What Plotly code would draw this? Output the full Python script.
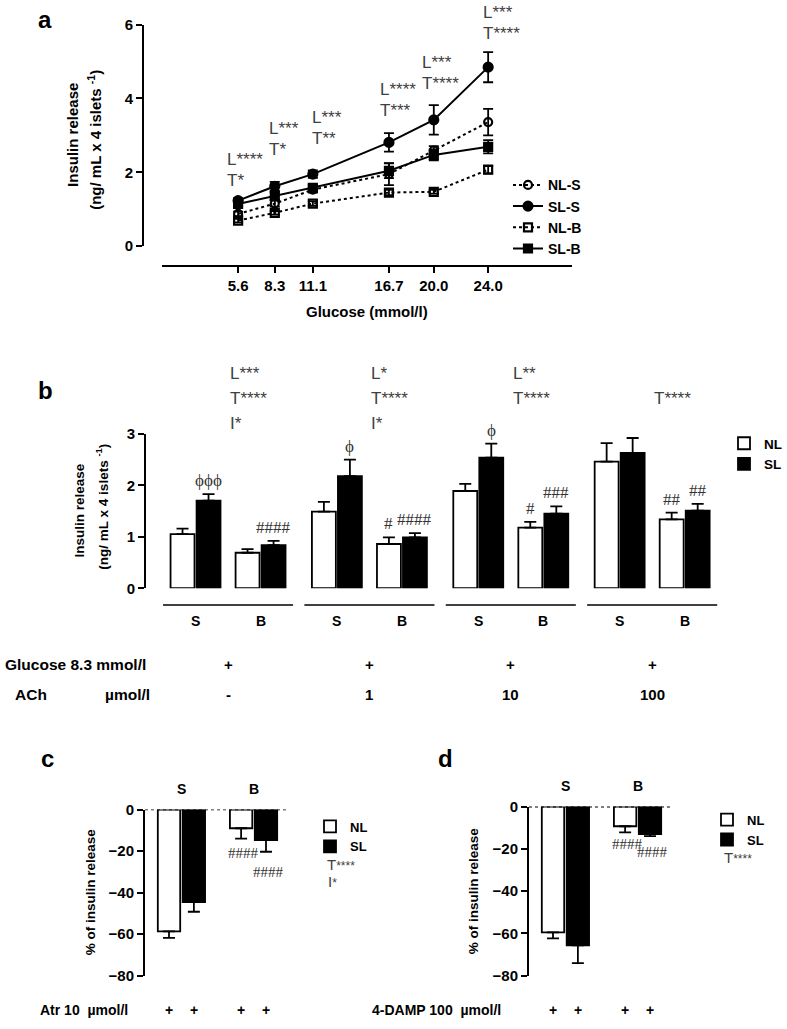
import plotly.graph_objects as go

W, H = 787, 1029
FONT = "Arial, Liberation Sans, Helvetica, sans-serif"
SERIF = "Times New Roman, Liberation Serif, serif"
GRAY = "#404040"


def fx(p):
    return p / W


def fy(p):
    return 1 - p / H


# ---------------- Panel a data ----------------
glucose = [5.6, 8.3, 11.1, 16.7, 20.0, 24.0]
glucose_labels = ["5.6", "8.3", "11.1", "16.7", "20.0", "24.0"]
nl_s = [0.87, 1.15, 1.53, 1.95, 2.59, 3.36]
nl_s_err = [0.06, 0.08, 0.08, 0.30, 0.12, 0.36]
sl_s = [1.23, 1.62, 1.95, 2.81, 3.42, 4.85]
sl_s_err = [0.07, 0.12, 0.10, 0.25, 0.40, 0.41]
nl_b = [0.69, 0.90, 1.15, 1.45, 1.47, 2.07]
nl_b_err = [0.05, 0.05, 0.06, 0.07, 0.05, 0.10]
sl_b = [1.14, 1.36, 1.58, 2.04, 2.47, 2.69]
sl_b_err = [0.06, 0.10, 0.08, 0.20, 0.15, 0.18]
a_sig_L = ["****", "***", "***", "****", "***", "***"]
a_sig_T = ["*", "*", "**", "***", "****", "****"]

# ---------------- Panel b data ----------------
ach_labels = ["-", "1", "10", "100"]
b_nl_s = [1.05, 1.49, 1.89, 2.46]
b_nl_s_err = [0.11, 0.19, 0.14, 0.36]
b_sl_s = [1.70, 2.18, 2.54, 2.63]
b_sl_s_err = [0.13, 0.32, 0.27, 0.29]
b_nl_b = [0.69, 0.86, 1.18, 1.34]
b_nl_b_err = [0.07, 0.13, 0.11, 0.13]
b_sl_b = [0.84, 0.99, 1.45, 1.51]
b_sl_b_err = [0.08, 0.08, 0.14, 0.13]
b_mark_sl_s = ["\u03d5\u03d5\u03d5", "\u03d5", "\u03d5", ""]
b_mark_nl_b = ["", "#", "#", "##"]
b_mark_sl_b = ["####", "####", "###", "##"]
b_sig_L = ["***", "*", "**", ""]
b_sig_T = ["****", "****", "****", "****"]
b_sig_I = ["*", "*", "", ""]

# ---------------- Panel c / d data ----------------
cd_groups = ["S", "B"]
c_nl = [-58.6, -9.0]
c_nl_err = [3.2, 5.0]
c_sl = [-44.5, -14.7]
c_sl_err = [4.7, 5.6]
c_marks = ["####", "####"]
d_nl = [-59.5, -9.3]
d_nl_err = [2.8, 2.9]
d_sl = [-65.6, -13.0]
d_sl_err = [8.4, 1.0]
d_marks = ["####", "####"]

fig = go.Figure()

# ================= Panel a =================
series_a = [
    ("NL-S", nl_s, nl_s_err, "circle-open", "dot", 8),
    ("SL-S", sl_s, sl_s_err, "circle", "solid", 9),
    ("NL-B", nl_b, nl_b_err, "square-open", "dot", 8),
    ("SL-B", sl_b, sl_b_err, "square", "solid", 8),
]
for name, vals, errs, sym, dash, size in series_a:
    fig.add_trace(go.Scatter(
        x=glucose, y=vals, name=name, mode="lines+markers",
        line=dict(color="black", width=2, dash=dash),
        marker=dict(symbol=sym, size=size, color="black",
                    line=dict(color="black", width=2.2)),
        error_y=dict(type="data", array=errs, visible=True, color="black",
                     thickness=1.8, width=5),
        xaxis="x", yaxis="y", legend="legend", cliponaxis=False,
    ))

# ================= Panel b =================
G = 5.435
pos_nl_s = [g * G for g in range(4)]
pos_sl_s = [g * G + 1 for g in range(4)]
pos_nl_b = [g * G + 2.5 for g in range(4)]
pos_sl_b = [g * G + 3.5 for g in range(4)]

fig.add_trace(go.Bar(
    x=pos_nl_s + pos_nl_b, y=b_nl_s + b_nl_b, name="NL", width=0.92,
    marker=dict(color="white", line=dict(color="black", width=1.8)),
    error_y=dict(type="data", symmetric=False, array=b_nl_s_err + b_nl_b_err,
                 arrayminus=[0] * 8, color="black", thickness=1.8, width=6),
    xaxis="x2", yaxis="y2", legend="legend2",
))
fig.add_trace(go.Bar(
    x=pos_sl_s + pos_sl_b, y=b_sl_s + b_sl_b, name="SL", width=0.92,
    marker=dict(color="black", line=dict(color="black", width=1.8)),
    error_y=dict(type="data", symmetric=False, array=b_sl_s_err + b_sl_b_err,
                 arrayminus=[0] * 8, color="black", thickness=1.8, width=6),
    xaxis="x2", yaxis="y2", legend="legend2",
))

# ================= Panel c / d =================
cd_pos_nl = [0, 2.9]
cd_pos_sl = [1, 3.9]
for (nl, nle, sl, sle, xa, ya, lg) in [
    (c_nl, c_nl_err, c_sl, c_sl_err, "x3", "y3", "legend3"),
    (d_nl, d_nl_err, d_sl, d_sl_err, "x4", "y4", "legend4"),
]:
    fig.add_trace(go.Bar(
        x=cd_pos_nl, y=nl, name="NL", width=0.9,
        marker=dict(color="white", line=dict(color="black", width=1.8)),
        error_y=dict(type="data", symmetric=False, array=[0, 0], arrayminus=nle,
                     color="black", thickness=1.8, width=6),
        xaxis=xa, yaxis=ya, legend=lg,
    ))
    fig.add_trace(go.Bar(
        x=cd_pos_sl, y=sl, name="SL", width=0.9,
        marker=dict(color="black", line=dict(color="black", width=1.8)),
        error_y=dict(type="data", symmetric=False, array=[0, 0], arrayminus=sle,
                     color="black", thickness=1.8, width=6),
        xaxis=xa, yaxis=ya, legend=lg,
    ))

tickfont = dict(family=FONT, size=15, color="black", weight="bold")
axis_common = dict(showline=True, linecolor="black", linewidth=2, ticks="outside",
                   tickcolor="black", tickwidth=2, ticklen=6, showgrid=False,
                   zeroline=False, tickfont=tickfont)

annotations = []
shapes = []


def txt(x, y, text, size=15, bold=True, xanchor="center", yanchor="middle",
        xref="paper", yref="paper", color="black", family=FONT, angle=0,
        xshift=0, yshift=0):
    annotations.append(dict(
        x=x, y=y, xref=xref, yref=yref, text=text, showarrow=False,
        xanchor=xanchor, yanchor=yanchor, textangle=angle,
        xshift=xshift, yshift=yshift,
        font=dict(family=family, size=size, color=color,
                  weight="bold" if bold else "normal")))


def small_sig(letter, stars, px=12):
    return letter + "<span style='font-size:%dpx'>%s</span>" % (px, stars)


# ----- panel a layout pieces -----
txt(fx(45), fy(11), "a", size=24)
txt(fx(73), fy(128), "Insulin release", size=15, angle=-90)
txt(fx(95), fy(133), "(ng/ mL x 4 islets <sup>-1</sup>)", size=15, angle=-90)
txt(fx(367), fy(308), "Glucose (mmol/l)", size=15)
a_T_y = [1.68, 2.51, 2.80, 3.57, 4.29, 5.65]
a_xshift = [-13, -8, -3, -11, -14, -7]
for i, g in enumerate(glucose):
    txt(g, a_T_y[i], "T" + a_sig_T[i], size=17, bold=False,
        xanchor="left", xref="x", yref="y", color=GRAY, xshift=a_xshift[i],
        yshift=4)
    txt(g, a_T_y[i], "L" + a_sig_L[i], size=17, bold=False,
        xanchor="left", xref="x", yref="y", color=GRAY, xshift=a_xshift[i],
        yshift=25)

# ----- panel b layout pieces -----
txt(fx(45), fy(388), "b", size=24)
txt(fx(80), fy(510), "Insulin release", size=13.5, angle=-90)
txt(fx(102), fy(506), "(ng/ mL x 4 islets <sup>-1</sup>)", size=13.5, angle=-90)
for g in range(4):
    base = g * G
    shapes.append(dict(type="line", xref="x2", yref="paper", x0=base - 0.75,
                       x1=base + 4.25, y0=fy(606), y1=fy(606),
                       line=dict(color="black", width=1.6)))
    txt(base + 0.5, fy(622), "S", size=14, xref="x2")
    txt(base + 3.0, fy(622), "B", size=14, xref="x2")
    txt(base + 1.75, fy(667), "+", size=15, xref="x2")
    txt(base + 1.75, fy(697), ach_labels[g], size=15, xref="x2")
    rows = [(b_sig_L[g], "L", 371), (b_sig_T[g], "T", 396), (b_sig_I[g], "I", 421)]
    for s, letter, ypix in rows:
        if s:
            txt(base + 1.75, fy(ypix), letter + s, size=17,
                bold=False, xanchor="left", xref="x2", color=GRAY)
    for marks, pos, vals, errs in [
        (b_mark_sl_s, pos_sl_s, b_sl_s, b_sl_s_err),
        (b_mark_nl_b, pos_nl_b, b_nl_b, b_nl_b_err),
        (b_mark_sl_b, pos_sl_b, b_sl_b, b_sl_b_err),
    ]:
        if marks[g]:
            txt(pos[g], vals[g] + errs[g], marks[g], size=17, bold=False,
                xref="x2", yref="y2", yanchor="bottom", yshift=2,
                family=SERIF, color="#333333")
txt(fx(3), fy(667), "Glucose 8.3 mmol/l", size=15.5, xanchor="left")
txt(fx(13), fy(697), "ACh", size=15.5, xanchor="left")
txt(fx(103), fy(697), "\u00b5mol/l", size=15.5, xanchor="left")

# ----- panel c / d layout pieces -----
txt(fx(47), fy(762), "c", size=24)
txt(fx(445), fy(762), "d", size=24)
txt(fx(90), fy(898), "% of insulin release", size=13.5, angle=-90)
txt(fx(473), fy(897), "% of insulin release", size=13.5, angle=-90)
for xa, ya, marks, nl, nle, sl, sle, shifts in [
    ("x3", "y3", c_marks, c_nl, c_nl_err, c_sl, c_sl_err, [-4, -10]),
    ("x4", "y4", d_marks, d_nl, d_nl_err, d_sl, d_sl_err, [-2, -6]),
]:
    for i, grp in enumerate(cd_groups):
        txt((cd_pos_nl[i] + cd_pos_sl[i]) / 2, 0, grp, size=14, xref=xa, yref=ya,
            yshift=21)
    txt(cd_pos_nl[1] + 0.1, nl[1] - nle[1], marks[0], size=15, bold=False,
        xref=xa, yref=ya, yanchor="top", yshift=shifts[0], family=SERIF,
        color="#333333")
    txt(cd_pos_sl[1] + 0.1, sl[1] - sle[1], marks[1], size=15, bold=False,
        xref=xa, yref=ya, yanchor="top", yshift=shifts[1], family=SERIF,
        color="#333333")
    shapes.append(dict(type="line", xref=xa + " domain", yref=ya, x0=0, x1=1,
                       y0=0, y1=0, line=dict(color="black", width=1.6, dash="dot")))

txt(fx(325), fy(870), small_sig("T", "****"), size=15, bold=False, xanchor="left",
    color=GRAY)
txt(fx(326), fy(887), small_sig("I", "*"), size=15, bold=False, xanchor="left",
    color=GRAY)
txt(fx(722), fy(863), small_sig("T", "****"), size=15, bold=False, xanchor="left",
    color=GRAY)

txt(fx(38), fy(1018), "Atr 10  \u00b5mol/l", size=14, xanchor="left")
txt(fx(503), fy(1018), "4-DAMP 100  \u00b5mol/l", size=14, xanchor="right")
for xa in ["x3", "x4"]:
    for p in cd_pos_nl + cd_pos_sl:
        txt(p, fy(1018), "+", size=14, xref=xa)


def legend_cfg(x, y, size):
    return dict(x=x, y=y, bgcolor="rgba(0,0,0,0)", borderwidth=0,
                font=dict(family=FONT, size=size, color="black", weight="bold"),
                xanchor="left", yanchor="top", tracegroupgap=0, itemwidth=30)


fig.update_layout(
    width=W, height=H, margin=dict(l=0, r=0, t=0, b=0),
    paper_bgcolor="white", plot_bgcolor="rgba(0,0,0,0)",
    barmode="overlay", showlegend=True,
    font=dict(family=FONT, color="black"),
    xaxis=dict(domain=[fx(162), fx(572)], range=[0, 30.17], tickvals=glucose,
               ticktext=glucose_labels, anchor="free", position=fy(261),
               **axis_common),
    yaxis=dict(domain=[fy(241), fy(16)], range=[0, 6], tickvals=[0, 2, 4, 6],
               anchor="free", position=fx(143), **axis_common),
    xaxis2=dict(domain=[fx(146), fx(722)], range=[-1.404, 20.74], visible=False,
                anchor="y2"),
    yaxis2=dict(domain=[fy(589), fy(432)], range=[0, 3], tickvals=[0, 1, 2, 3],
                anchor="x2", **axis_common),
    xaxis3=dict(domain=[fx(145), fx(288)], range=[-0.965, 4.785], visible=False,
                anchor="y3"),
    yaxis3=dict(domain=[fy(983), fy(814)], range=[-80, 0],
                tickvals=[0, -20, -40, -60, -80], anchor="x3", **axis_common),
    xaxis4=dict(domain=[fx(529), fx(673)], range=[-0.965, 4.825], visible=False,
                anchor="y4"),
    yaxis4=dict(domain=[fy(983), fy(811)], range=[-80, 0],
                tickvals=[0, -20, -40, -60, -80], anchor="x4", **axis_common),
    legend=legend_cfg(fx(508), fy(163), 14),
    legend2=dict(legend_cfg(fx(724), fy(426), 13.5)),
    legend3=dict(legend_cfg(fx(310), fy(816), 13)),
    legend4=dict(legend_cfg(fx(707), fy(809), 13)),
    annotations=annotations, shapes=shapes,
)

fig.write_html("out.html", config={"displayModeBar": False},
               post_script="document.body.style.margin='0';")
